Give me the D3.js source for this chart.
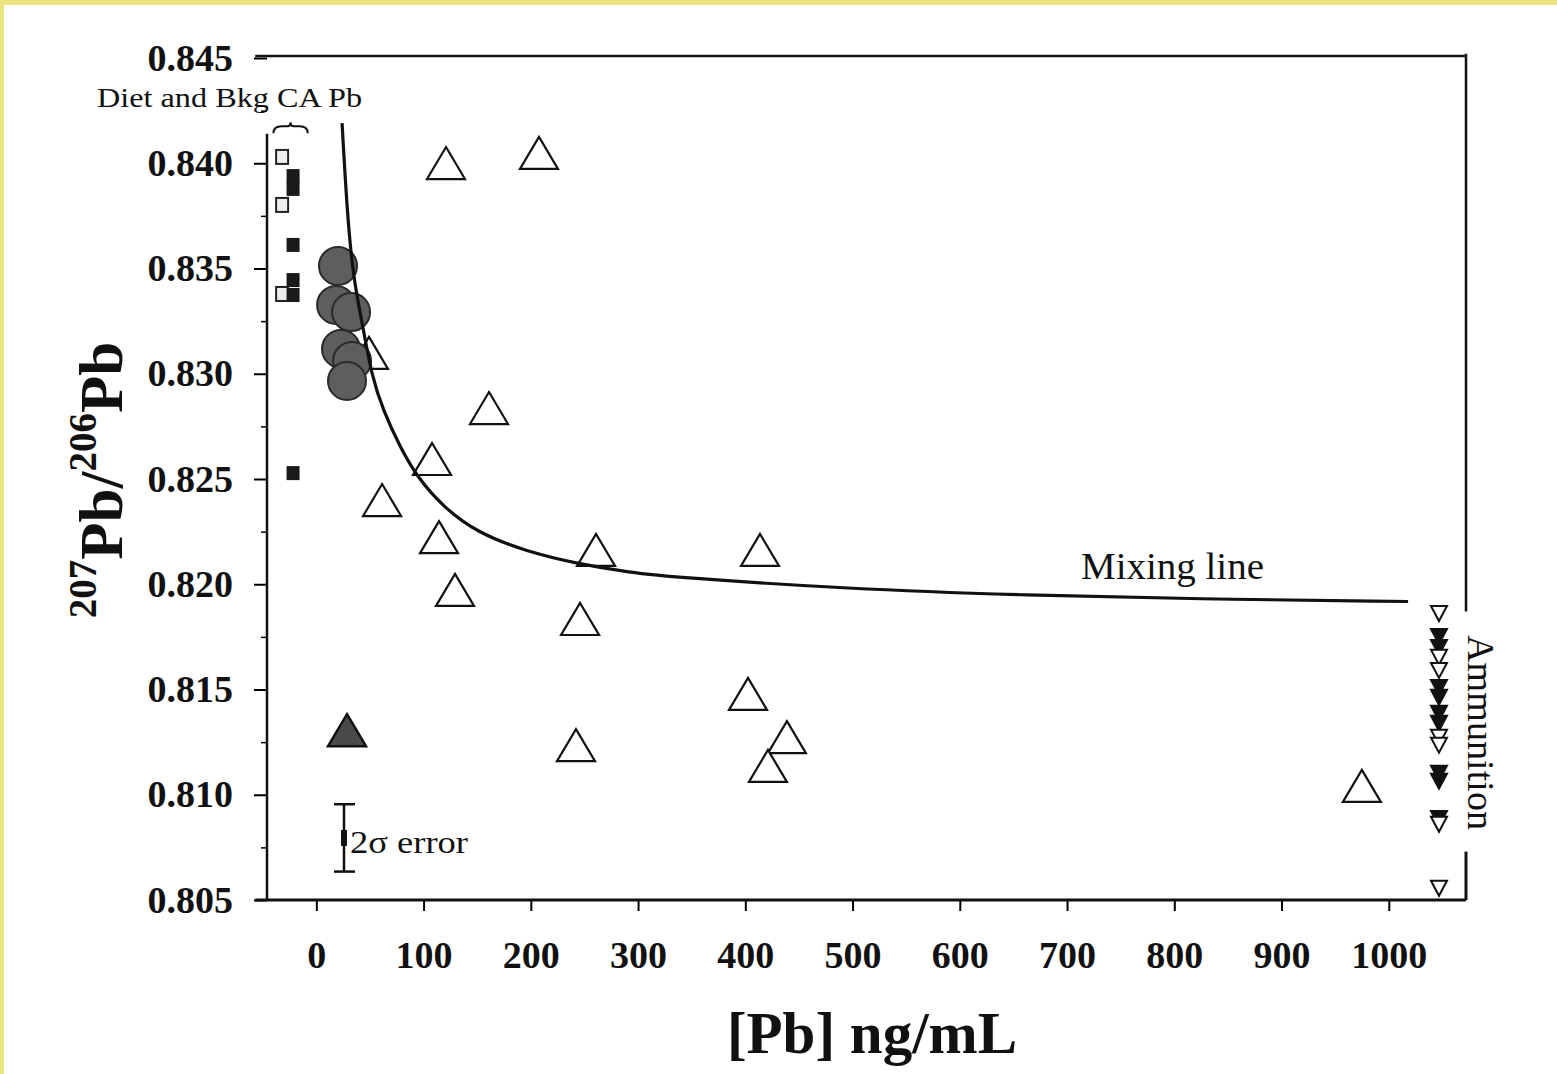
<!DOCTYPE html>
<html>
<head>
<meta charset="utf-8">
<script src="https://d3js.org/d3.v7.min.js"></script>
<style>
  body { margin: 0; background: #fff; }
  svg text { font-family: "Liberation Serif", "Times New Roman", serif; fill: #111; }
</style>
</head>
<body>
<div id="container"></div>
<script>
/**
 * CONSTANTS AND GLOBALS
 * */
const width = 1557,
    height = 1074;

// x = [Pb] ng/mL, y = 207Pb/206Pb
const xTicks = [0, 100, 200, 300, 400, 500, 600, 700, 800, 900, 1000];
const yTicks = [0.805, 0.810, 0.815, 0.820, 0.825, 0.830, 0.835, 0.840, 0.845];
const yMinorTicks = [0.8075, 0.8125, 0.8175, 0.8225, 0.8275, 0.8325, 0.8375, 0.8425];

// blood samples (open triangles)
const sampleX = [120.9, 207.6, 49.1, 161.0, 107.9, 61.3, 114.4, 129.3, 260.8, 245.9, 413.7, 242.1, 402.5, 438.8, 421.1, 974.9];
const sampleY = [0.84001, 0.84049, 0.83099, 0.82837, 0.82595, 0.82400, 0.82224, 0.81973, 0.82163, 0.81835, 0.82163, 0.81236, 0.81479, 0.81274, 0.81137, 0.81042];

// filled triangle
const filledTriX = [28.6];
const filledTriY = [0.81307];

// grey circles
const circleX = [20.2, 18.4, 32.4, 23.0, 33.3, 28.6];
const circleY = [0.83512, 0.83327, 0.83293, 0.83118, 0.83061, 0.82966];

// Diet and background CA Pb (squares)
const openSqX = [-31.9, -31.9, -31.9];
const openSqY = [0.84030, 0.83802, 0.83379];
const filledSqX = [-21.7, -21.7, -21.7, -21.7, -21.7, -21.7];
const filledSqY = [0.83939, 0.83878, 0.83612, 0.83445, 0.83374, 0.82528];

// ammunition (down triangles)
const ammoX = 1046.8;
const ammoY = [0.81863, 0.81754, 0.81702, 0.81656, 0.81593, 0.81512, 0.81465, 0.81389, 0.81342, 0.81276, 0.81238, 0.81105, 0.81067, 0.80890, 0.80862, 0.80558];
const ammoFilled = [false, true, true, false, false, true, true, true, true, false, false, true, true, true, false, false];

// mixing line
const mixX = [24.0, 28.6, 34.2, 43.5, 51.9, 62.2, 78.0, 93.8, 118.1, 149.8, 196.4, 243.0, 292.4, 334.8, 495.7, 658.0, 819.3, 1018.0];
const mixY = [0.84191, 0.83778, 0.83460, 0.83222, 0.82985, 0.82828, 0.82652, 0.82511, 0.82368, 0.82245, 0.82155, 0.82098, 0.82056, 0.82033, 0.81978, 0.81948, 0.81930, 0.81918];

// 2 sigma error bar
const errX = 25.8, errY = 0.80795, errHalf = 0.0016;

const xScale = d3.scaleLinear().domain([-46, 1072]).range([267, 1466]);
const yScale = d3.scaleLinear().domain([0.805, 0.845]).range([900, 58]);

const svg = d3.select("#container")
    .append("svg")
    .attr("width", width)
    .attr("height", height);

svg.append("rect").attr("width", width).attr("height", height).attr("fill", "#fff");
// yellow page edge
svg.append("rect").attr("x", 0).attr("y", 0).attr("width", width).attr("height", 5).attr("fill", "#ebe37c");
svg.append("rect").attr("x", 0).attr("y", 0).attr("width", 4).attr("height", height).attr("fill", "#ebe37c");

/* AXES */
const xAxis = d3.axisBottom(xScale)
    .tickValues(xTicks)
    .tickSize(11)
    .tickPadding(30)
    .tickFormat(d3.format("d"));
const xAxisGroup = svg.append("g")
    .attr("transform", `translate(0,${yScale(0.805)})`)
    .call(xAxis);
xAxisGroup.select(".domain").remove();
xAxisGroup.selectAll("text")
    .attr("font-size", 38)
    .attr("font-weight", "bold");
xAxisGroup.selectAll("line").attr("stroke-width", 2);

const yAxis = d3.axisLeft(yScale)
    .tickValues(yTicks)
    .tickSize(13)
    .tickPadding(21)
    .tickFormat(d3.format(".3f"));
const yAxisGroup = svg.append("g")
    .attr("transform", `translate(${xScale(-46)},0)`)
    .call(yAxis);
yAxisGroup.select(".domain").remove();
yAxisGroup.selectAll("text")
    .attr("font-size", 38)
    .attr("font-weight", "bold");
yAxisGroup.selectAll("line").attr("stroke-width", 2);

const yMinor = svg.append("g")
    .attr("transform", `translate(${xScale(-46)},0)`)
    .call(d3.axisLeft(yScale).tickValues(yMinorTicks).tickSize(6).tickFormat(""));
yMinor.select(".domain").remove();
yMinor.selectAll("line").attr("stroke-width", 1.5);

// frame lines
const frame = svg.append("g").attr("stroke", "#111").attr("fill", "none");
frame.append("line") // bottom
    .attr("x1", xScale(-57)).attr("x2", xScale(1072))
    .attr("y1", yScale(0.805)).attr("y2", yScale(0.805))
    .attr("stroke-width", 3);
frame.append("line") // top
    .attr("x1", xScale(-57)).attr("x2", xScale(1072))
    .attr("y1", yScale(0.8451)).attr("y2", yScale(0.8451))
    .attr("stroke-width", 2.5);
frame.append("line") // left, broken under the label
    .attr("x1", xScale(-46)).attr("x2", xScale(-46))
    .attr("y1", yScale(0.8414)).attr("y2", yScale(0.805))
    .attr("stroke-width", 2.5);
frame.append("line") // right upper
    .attr("x1", xScale(1072)).attr("x2", xScale(1072))
    .attr("y1", yScale(0.8452)).attr("y2", yScale(0.8187))
    .attr("stroke-width", 2.5);
frame.append("line") // right lower
    .attr("x1", xScale(1072)).attr("x2", xScale(1072))
    .attr("y1", yScale(0.8073)).attr("y2", yScale(0.805))
    .attr("stroke-width", 3);

/* MARKS */
const upTri = "M0,-16L19,16L-19,16Z";
const downTri = "M-8,-7L8,-7L0,8Z";

const samples = sampleX.map((x, i) => ({ x, y: sampleY[i] }));
svg.selectAll("path.sample")
    .data(samples)
    .join("path")
    .attr("class", "sample")
    .attr("d", upTri)
    .attr("transform", d => `translate(${xScale(d.x)},${yScale(d.y)})`)
    .attr("fill", "#fff")
    .attr("stroke", "#111")
    .attr("stroke-width", 2.2);

svg.selectAll("path.filledtri")
    .data(filledTriX.map((x, i) => ({ x, y: filledTriY[i] })))
    .join("path")
    .attr("class", "filledtri")
    .attr("d", upTri)
    .attr("transform", d => `translate(${xScale(d.x)},${yScale(d.y)})`)
    .attr("fill", "#4a4a4a")
    .attr("stroke", "#111")
    .attr("stroke-width", 2.5);

svg.selectAll("circle.grey")
    .data(circleX.map((x, i) => ({ x, y: circleY[i] })))
    .join("circle")
    .attr("class", "grey")
    .attr("cx", d => xScale(d.x))
    .attr("cy", d => yScale(d.y))
    .attr("r", 19)
    .attr("fill", "#5e5e5e")
    .attr("stroke", "#2a2a2a")
    .attr("stroke-width", 2);

svg.selectAll("rect.opensq")
    .data(openSqX.map((x, i) => ({ x, y: openSqY[i] })))
    .join("rect")
    .attr("class", "opensq")
    .attr("x", d => xScale(d.x) - 6)
    .attr("y", d => yScale(d.y) - 7)
    .attr("width", 12)
    .attr("height", 14)
    .attr("fill", "#eee")
    .attr("stroke", "#222")
    .attr("stroke-width", 2);

svg.selectAll("rect.filledsq")
    .data(filledSqX.map((x, i) => ({ x, y: filledSqY[i] })))
    .join("rect")
    .attr("class", "filledsq")
    .attr("x", d => xScale(d.x) - 6.5)
    .attr("y", d => yScale(d.y) - 7)
    .attr("width", 13)
    .attr("height", 14)
    .attr("fill", "#1a1a1a");

svg.selectAll("path.ammo")
    .data(ammoY.map((y, i) => ({ x: ammoX, y, filled: ammoFilled[i] })))
    .join("path")
    .attr("class", "ammo")
    .attr("d", downTri)
    .attr("transform", d => `translate(${xScale(d.x)},${yScale(d.y)})`)
    .attr("fill", d => d.filled ? "#111" : "#fff")
    .attr("stroke", "#111")
    .attr("stroke-width", 2);

// mixing line
const line = d3.line()
    .x(d => xScale(d[0]))
    .y(d => yScale(d[1]))
    .curve(d3.curveBasis);
svg.append("path")
    .datum(mixX.map((x, i) => [x, mixY[i]]))
    .attr("d", line)
    .attr("fill", "none")
    .attr("stroke", "#111")
    .attr("stroke-width", 3.2);

// error bar
const eb = svg.append("g").attr("stroke", "#111");
eb.append("line")
    .attr("x1", xScale(errX)).attr("x2", xScale(errX))
    .attr("y1", yScale(errY + errHalf)).attr("y2", yScale(errY - errHalf))
    .attr("stroke-width", 2.5);
eb.selectAll("line.cap")
    .data([errY + errHalf, errY - errHalf])
    .join("line")
    .attr("class", "cap")
    .attr("x1", xScale(errX) - 10).attr("x2", xScale(errX) + 11)
    .attr("y1", d => yScale(d)).attr("y2", d => yScale(d))
    .attr("stroke-width", 2.5);
eb.append("rect")
    .attr("x", xScale(errX) - 3).attr("y", yScale(errY) - 8)
    .attr("width", 6).attr("height", 16)
    .attr("fill", "#111").attr("stroke", "none");

// brace over the diet squares
const bx0 = xScale(-40), bx1 = xScale(-8), bm = (bx0 + bx1) / 2, by = yScale(0.8419);
svg.append("path")
    .attr("d", `M${bx0},${by + 10} Q${bx0},${by + 3} ${bx0 + 8},${by + 3} L${bm - 3},${by + 3} Q${bm},${by + 3} ${bm},${by - 1} Q${bm},${by + 3} ${bm + 3},${by + 3} L${bx1 - 8},${by + 3} Q${bx1},${by + 3} ${bx1},${by + 10}`)
    .attr("fill", "none")
    .attr("stroke", "#111")
    .attr("stroke-width", 2);

/* TEXT */
svg.append("text")
    .attr("x", 97)
    .attr("y", yScale(0.84267))
    .attr("font-size", 27)
    .attr("textLength", 265)
    .attr("lengthAdjust", "spacingAndGlyphs")
    .text("Diet and Bkg CA Pb");

svg.append("text")
    .attr("x", xScale(713))
    .attr("y", yScale(0.81925) - 21)
    .attr("font-size", 37)
    .attr("textLength", 183)
    .attr("lengthAdjust", "spacingAndGlyphs")
    .text("Mixing line");

svg.append("text")
    .attr("transform", `translate(${xScale(1072) + 2},${yScale(0.8183) + 15}) rotate(90)`)
    .attr("font-size", 38)
    .attr("textLength", 195)
    .attr("lengthAdjust", "spacingAndGlyphs")
    .text("Ammunition");

svg.append("text")
    .attr("x", xScale(errX) + 6)
    .attr("y", yScale(errY) + 15)
    .attr("font-size", 31)
    .attr("textLength", 118)
    .attr("lengthAdjust", "spacingAndGlyphs")
    .text("2σ error");

// axis titles
svg.append("text")
    .attr("x", 872)
    .attr("y", 1053)
    .attr("text-anchor", "middle")
    .attr("font-size", 59)
    .attr("font-weight", "bold")
    .text("[Pb] ng/mL");

const yTitle = svg.append("text")
    .attr("transform", "translate(122,480) rotate(-90)")
    .attr("text-anchor", "middle")
    .attr("font-weight", "bold");
yTitle.append("tspan").attr("font-size", 39).attr("dy", -26).text("207");
yTitle.append("tspan").attr("font-size", 61).attr("dy", 26).text("Pb/");
yTitle.append("tspan").attr("font-size", 39).attr("dy", -26).text("206");
yTitle.append("tspan").attr("font-size", 61).attr("dy", 26).text("Pb");
</script>
</body>
</html>
